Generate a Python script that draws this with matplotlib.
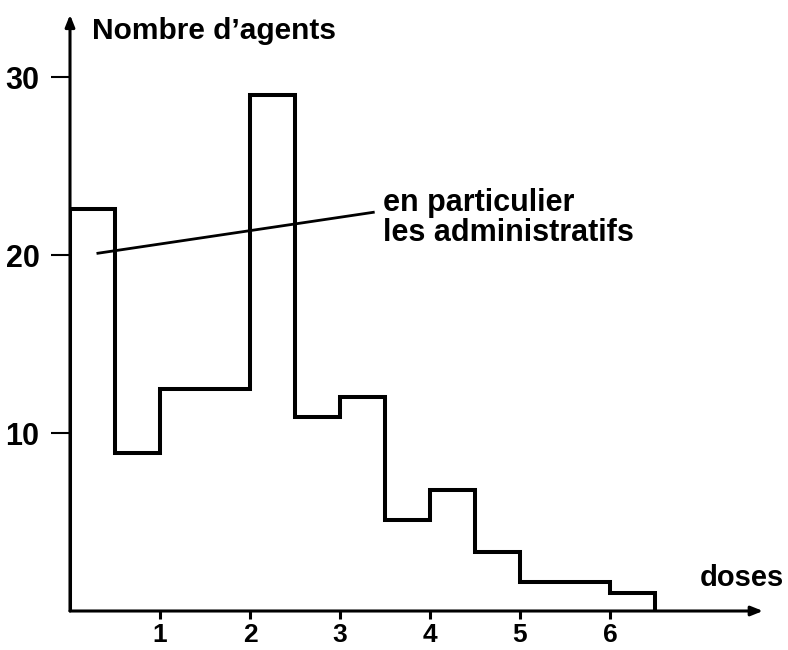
# Histogramme : nombre d'agents selon les doses reçues.
import matplotlib.pyplot as plt

# Bornes des classes (largeur 0,5 dose).
bin_edges = [0, 0.5, 1, 1.5, 2, 2.5, 3, 3.5, 4, 4.5, 5, 5.5, 6, 6.5]

# Nombre d'agents dans chaque classe.
counts = [22.6, 8.9, 12.5, 12.5, 29.0, 10.9, 12.0, 5.1, 6.8, 3.3, 1.65, 1.65, 1.0]

x_ticks = [1, 2, 3, 4, 5, 6]
y_ticks = [10, 20, 30]

y_label = "Nombre d\u2019agents"
x_label = "doses"
note_text = "en particulier\nles administratifs"


def main():
    plt.rcParams['font.family'] = ['Liberation Sans', 'DejaVu Sans']

    fig = plt.figure(figsize=(7.88, 6.5), dpi=100)
    # Axe placé pour que 0 tombe à x=70 px et y=611 px.
    ax = fig.add_axes([70 / 788, 39 / 650, 711 / 788, 601.6 / 650])
    ax.set_xlim(0, 7.9)
    ax.set_ylim(0, 33.8)

    # Contour en escalier du histogramme.
    ax.stairs(counts, bin_edges, baseline=0, color='black', linewidth=2.9)

    # Axes avec flèches.
    for side in ax.spines:
        ax.spines[side].set_visible(False)
    arrow = dict(arrowstyle='-|>,head_length=0.7,head_width=0.28',
                 color='black', linewidth=2.2, shrinkA=0, shrinkB=0)
    ax.annotate('', xy=(7.7, 0), xytext=(0, 0), arrowprops=arrow,
                annotation_clip=False)
    ax.annotate('', xy=(0, 33.5), xytext=(0, 0), arrowprops=arrow,
                annotation_clip=False)

    # Graduations.
    ax.set_xticks(x_ticks)
    ax.set_yticks(y_ticks)
    ax.tick_params(axis='x', direction='out', length=6, width=2.2,
                   labelsize=19, pad=3)
    ax.tick_params(axis='y', direction='out', length=14, width=1.5,
                   labelsize=22, pad=8)
    for lab in ax.get_xticklabels() + ax.get_yticklabels():
        lab.set_fontweight('bold')

    # Titres des axes.
    ax.text(0.24, 32.6, y_label, fontsize=21.5, fontweight='bold',
            va='center', ha='left')
    ax.text(7.0, 1.85, x_label, fontsize=21, fontweight='bold',
            va='center', ha='left')

    # Remarque avec trait de rappel.
    ax.plot([0.31, 3.37], [20.1, 22.4], color='black', linewidth=2.0)
    ax.text(3.48, 22.1, note_text, fontsize=22, fontweight='bold',
            va='center', ha='left', linespacing=1.0)

    fig.savefig('out.png', dpi=100)


main()
